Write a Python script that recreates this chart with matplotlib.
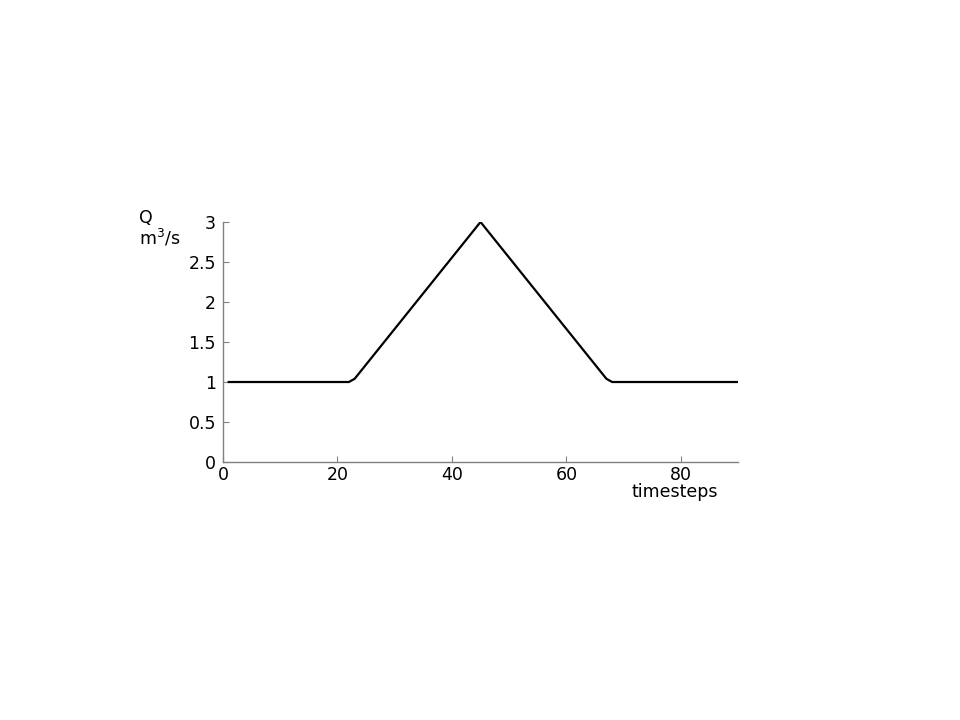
import matplotlib
matplotlib.use('Agg')
from matplotlib import pyplot as plt

# hydrograph: discharge Q over timesteps
timesteps = [1, 22, 23, 45, 67, 68, 90]
discharge = [1, 1, 1.04, 3, 1.04, 1, 1]

x_ticks = [0, 20, 40, 60, 80]
y_ticks = [0, 0.5, 1, 1.5, 2, 2.5, 3]
y_tick_labels = ['0', '0.5', '1', '1.5', '2', '2.5', '3']

plt.rcParams['font.family'] = ['DejaVu Sans']
fs = 12.5

fig = plt.figure(figsize=(9.6, 7.2), dpi=100)
ax = fig.add_axes([0.2323, 0.3583, 0.5365, 0.3334])

ax.plot(timesteps, discharge, color='black', linewidth=1.6)

ax.set_xlim(0, 90)
ax.set_ylim(0, 3)
ax.set_xticks(x_ticks)
ax.set_yticks(y_ticks)
ax.set_yticklabels(y_tick_labels)

for side in ['top', 'right']:
    ax.spines[side].set_visible(False)
for side in ['left', 'bottom']:
    ax.spines[side].set_color('#808080')
    ax.spines[side].set_linewidth(1.0)

ax.tick_params(direction='in', length=4, color='#808080', labelsize=fs)
ax.tick_params(axis='x', pad=3)
ax.tick_params(axis='y', pad=5)

fig.text(0.1445, 0.697, 'Q', fontsize=fs, ha='left', va='center')
fig.text(0.1445, 0.670, 'm$^3$/s', fontsize=fs, ha='left', va='center')
fig.text(0.703, 0.3295, 'timesteps', fontsize=fs, ha='center', va='top')

fig.savefig('out.png', dpi=100, facecolor='white')
